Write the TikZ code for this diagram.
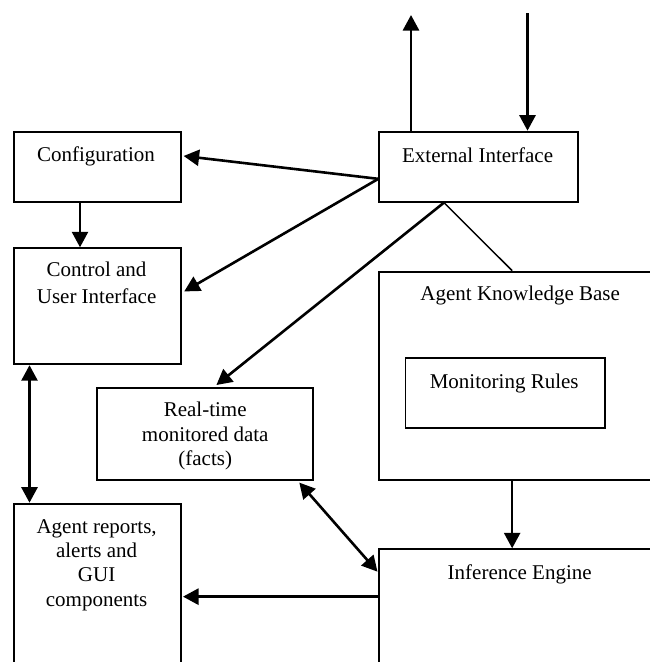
\documentclass[tikz,border=0pt]{standalone}
\usepackage{fontspec}
\setmainfont{Liberation Serif}
\usetikzlibrary{arrows.meta}
\begin{document}
\begin{tikzpicture}[x=1pt,y=-1pt,
  box/.style={draw, line width=1.9pt, inner sep=0pt, anchor=north west},
  lbl/.style={anchor=base, align=center, inner sep=0pt,
    font=\fontsize{21}{24.3}\selectfont},
  tip/.style={Triangle[length=15.5pt,width=16pt]},
  arr/.style={line width=2.6pt, -{Triangle[length=15.5pt,width=16pt]}},
  dbl/.style={line width=2.6pt, {Triangle[length=15.5pt,width=16pt]}-{Triangle[length=15.5pt,width=16pt]}},
  thin/.style={line width=1.5pt}]
\useasboundingbox (0,0) rectangle (650,662);
\clip (0,0) rectangle (650,662);

% boxes
\node[box, minimum width=166.7pt, minimum height=70pt]  (cfg)   at (13.3,130.7) {};
\node[box, minimum width=198.7pt, minimum height=70pt]  (ext)   at (378.3,130.7) {};
\node[box, minimum width=166.7pt, minimum height=116pt] (ctl)   at (13.3,247.3) {};
\node[box, minimum width=284pt, minimum height=208.6pt] (kb)    at (378.3,270.7) {};
\node[box, minimum width=199.3pt, minimum height=70pt]  (rules) at (404.5,357.3) {};
\node[box, minimum width=215.5pt, minimum height=92.6pt](rt)    at (96.4,386.7) {};
\node[box, minimum width=166.7pt, minimum height=200pt] (rep)   at (13.3,502.7) {};
\node[box, minimum width=284pt, minimum height=200pt]   (inf)   at (378.3,548.3) {};

% box texts (multi-line texts are placed by the baseline of their last line)
\node[lbl] (cfgt)   at (96,161.8)  {Configuration};
\node[lbl] (extt)   at (477.6,162.2) {External Interface};
\node[lbl, font=\fontsize{21}{26.6}\selectfont]
           (ctlt)   at (96.6,303.3) {Control and\\User Interface};
\node[lbl] (kbt)    at (520.2,300.7) {Agent Knowledge Base};
\node[lbl] (rulest) at (504.2,388)   {Monitoring Rules};
\node[lbl] (rtt)    at (205.2,465.5) {Real-time\\monitored data\\(facts)};
\node[lbl] (rept)   at (96.6,606)    {Agent reports,\\alerts and\\GUI\\components};
\node[lbl] (inft)   at (519.7,579)   {Inference Engine};

% free ends of the external links
\coordinate (outtop) at (411,15);
\coordinate (intop)  at (527.5,13);

% connectors
\draw[arr] (outtop |- ext.north) -- (outtop);
\draw[arr] (intop) -- (intop |- ext.north);
\draw[arr] ([yshift=-12.2pt]ext.west) -- ([xshift=1.7pt,yshift=10.7pt]cfg.east);
\draw[arr] ([yshift=-12.2pt]ext.west) -- ([xshift=2.3pt,yshift=14.8pt]ctl.east);
\draw[arr] ([xshift=65.7pt]ext.south west) -- ([xshift=11.3pt,yshift=1.7pt]rt.north);
\draw[thin] ([xshift=65.7pt]ext.south west) -- ([xshift=-9.1pt]kb.north);
\draw[arr] ([xshift=66.7pt]cfg.south west) -- ([xshift=66.7pt]ctl.north west);
\draw[dbl] ([xshift=16.2pt]ctl.south west) -- ([xshift=16.2pt]rep.north west);
\draw[arr] ([xshift=-9.1pt]kb.south) -- ([xshift=-9.1pt]inf.north);
\draw[dbl] ([xshift=-14.5pt,yshift=-1.4pt]rt.south east) -- ([xshift=-0.8pt,yshift=-23.4pt]inf.north west);
\draw[arr] ([yshift=52.6pt]inf.west) coordinate (q) -- ([xshift=1.1pt]q -| rep.east);
\end{tikzpicture}
\end{document}
